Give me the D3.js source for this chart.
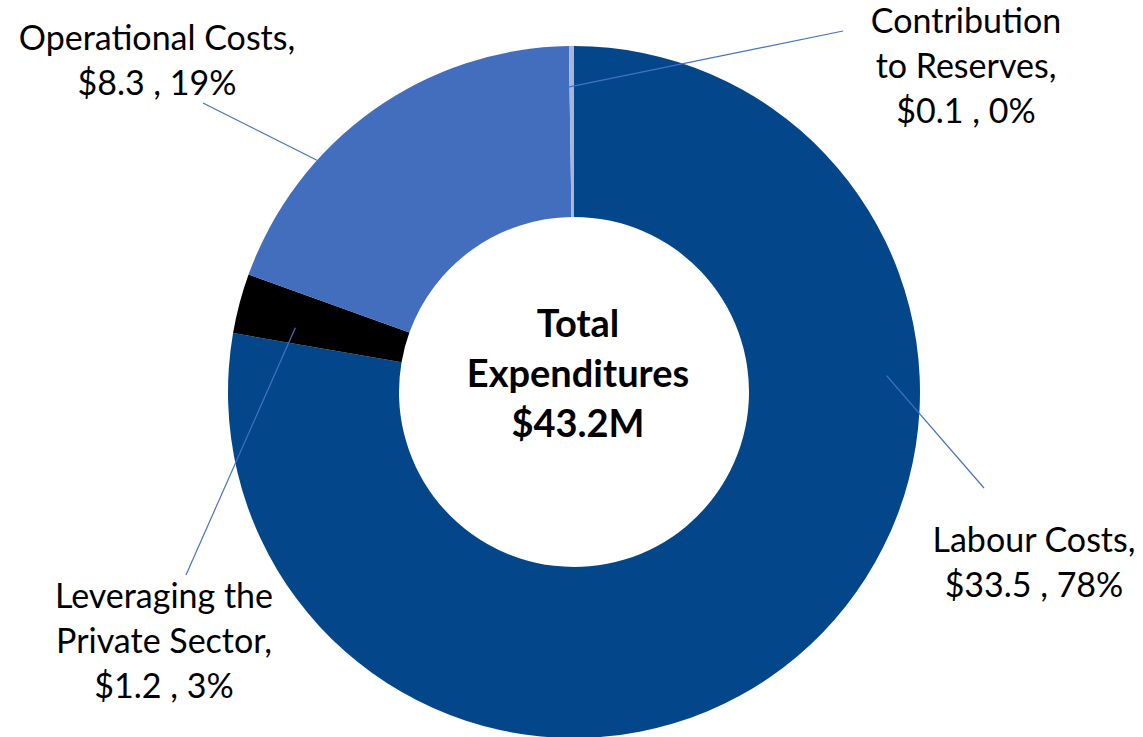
<!DOCTYPE html>
<html>
<head>
<meta charset="utf-8">
<script src="https://cdn.jsdelivr.net/npm/d3@7"></script>
<style>
  body { margin: 0; background: #fff; }
  svg { display: block; }
</style>
</head>
<body>
<div id="chart"></div>
<script>
// data
var categories = ["Labour Costs", "Leveraging the Private Sector", "Operational Costs", "Contribution to Reserves"];
var values = [33.5, 1.2, 8.3, 0.1];
var labelLines = [["Labour Costs,"], ["Leveraging the", "Private Sector,"], ["Operational Costs,"], ["Contribution", "to Reserves,"]];
var centerLines = ["Total", "Expenditures", "$43.2M"];

var colors = ["#03478A", "#000000", "#426EBD", "#A4B6DF"];

// layout
var w = 1143, h = 737,
    cx = 574, cy = 392,
    rOuter = 346, rInner = 175;

// where the labels sit and where their leader lines start (angle in deg, radius)
var labelPos = [
  {x: 1034, y: 552, a: 87, r: 313, lx: 984, ly: 488},
  {x: 164, y: 608, a: 283, r: 286, lx: 186, ly: 575},
  {x: 157, y: 50, a: 314.6, r: 298, lx: 203, ly: 103},
  {x: 966, y: 33, a: 358.9, r: 305, lx: 843, ly: 31}
];

var svg = d3.select("#chart")
  .append("svg")
  .attr("width", w)
  .attr("height", h);

var g = svg.append("g")
  .attr("transform", "translate(" + cx + "," + cy + ")");

var total = d3.sum(values);
var pie = d3.pie().sort(null).value(function(d) { return d; });
var arc = d3.arc().innerRadius(rInner).outerRadius(rOuter);

var arcs = pie(values);

g.selectAll("path.slice")
  .data(arcs)
  .enter()
  .append("path")
  .attr("class", "slice")
  .attr("d", arc)
  .attr("fill", function(d, i) { return colors[i]; });

// leader lines
arcs.forEach(function(d, i) {
  var p = labelPos[i];
  var start = d3.pointRadial(p.a * Math.PI / 180, p.r);
  g.append("line")
    .attr("x1", start[0])
    .attr("y1", start[1])
    .attr("x2", p.lx - cx)
    .attr("y2", p.ly - cy)
    .attr("stroke", "#4472C4")
    .attr("stroke-width", 1.2);
});

// labels
var fmtPct = function(v) { return Math.round(v / total * 100) + "%"; };
var lineH = 45;

arcs.forEach(function(d, i) {
  var p = labelPos[i];
  var lines = labelLines[i].concat(["$" + d3.format(".1f")(values[i]) + " , " + fmtPct(values[i])]);
  var t = svg.append("text")
    .attr("x", p.x)
    .attr("y", p.y)
    .style("font-family", "Lato, 'Open Sans', sans-serif")
    .style("font-size", "34px")
    .style("fill", "#000")
    .attr("text-anchor", "middle");
  lines.forEach(function(l, k) {
    t.append("tspan")
      .attr("x", p.x)
      .attr("y", p.y + k * lineH)
      .text(l);
  });
});

// center text
var ct = svg.append("text")
  .attr("text-anchor", "middle")
  .style("font-family", "Lato, 'Open Sans', sans-serif")
  .style("font-size", "38px")
  .style("font-weight", "bold")
  .style("fill", "#000");
centerLines.forEach(function(l, k) {
  ct.append("tspan")
    .attr("x", 578)
    .attr("y", 337 + k * 50)
    .text(l);
});
</script>
</body>
</html>
